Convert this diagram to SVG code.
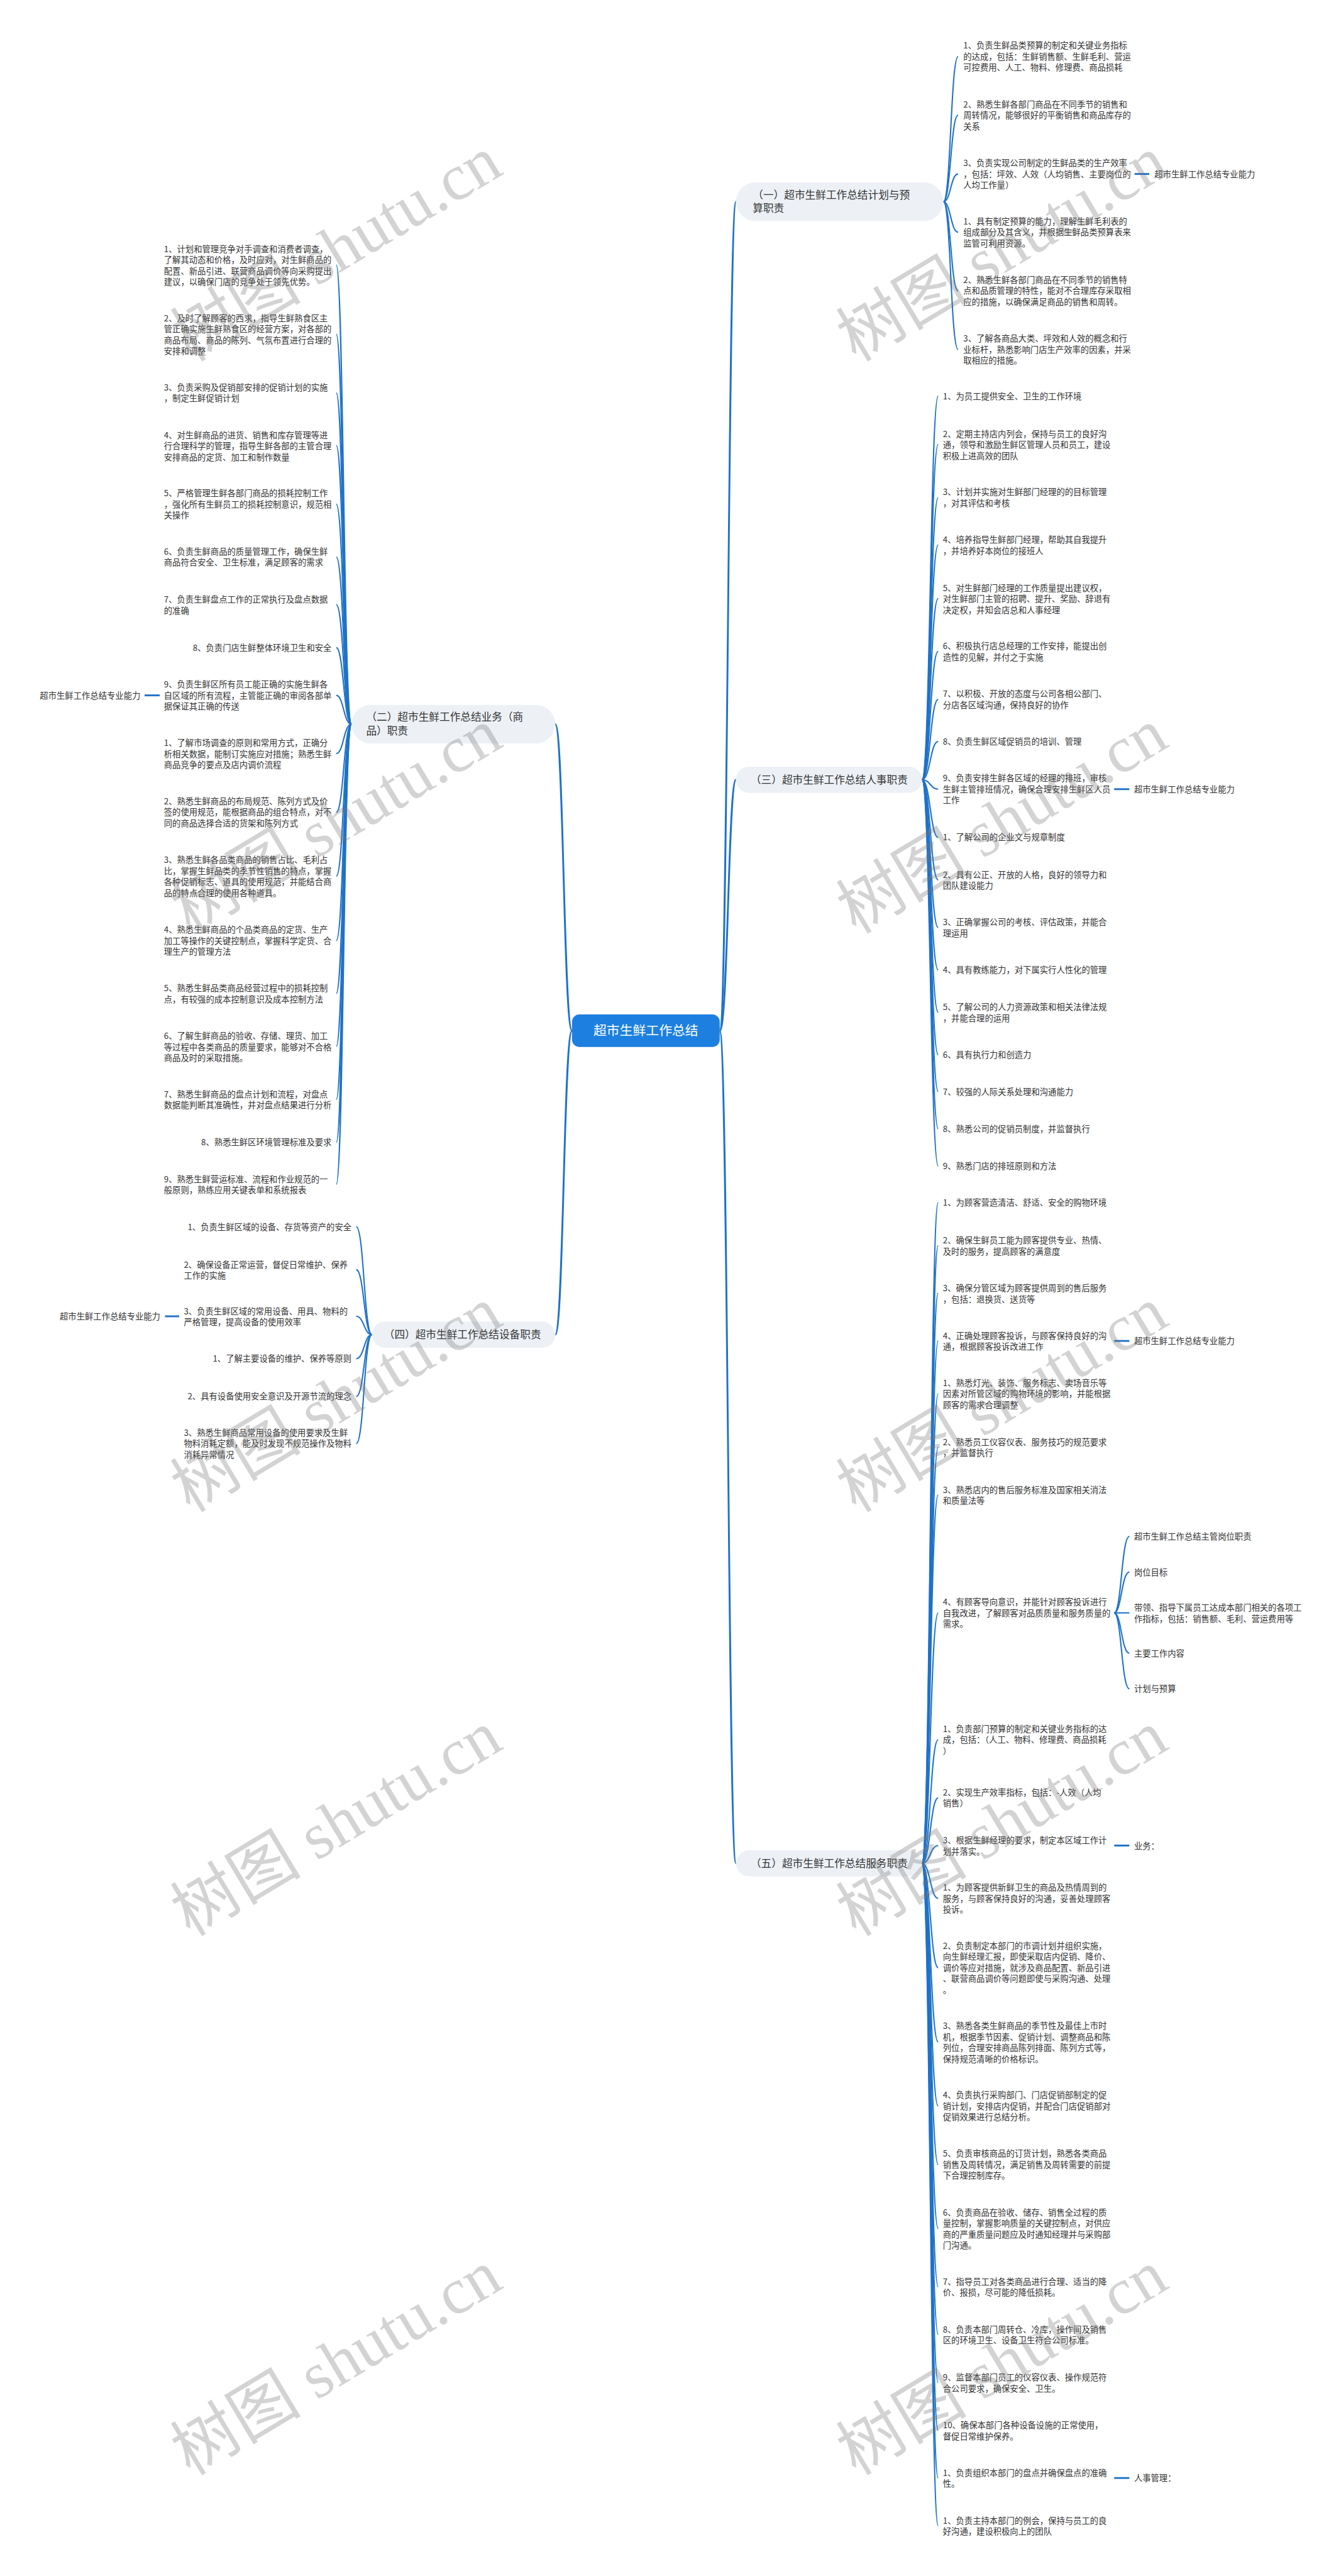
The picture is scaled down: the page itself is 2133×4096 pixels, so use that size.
<svg xmlns="http://www.w3.org/2000/svg" width="2133" height="4096" viewBox="0 0 2133 4096">
<style>
.t{font-family:"Noto Sans CJK SC","Noto Sans",sans-serif;font-size:16px;fill:#333}
.e{text-anchor:end}
.b{font-family:"Noto Sans CJK SC","Noto Sans",sans-serif;font-size:20px;fill:#333}
.r{font-family:"Noto Sans CJK SC","Noto Sans",sans-serif;font-size:25px;fill:#fff;text-anchor:middle}
.pill{fill:#edf1f6}
.c{fill:none;stroke:#1f72c8;stroke-width:2.5}
.c0{fill:none;stroke:#1f72c8;stroke-width:3.5}
.d{fill:none;stroke:#1f72c8;stroke-width:3.5}
.wm{font-family:"Liberation Serif","Noto Sans CJK SC",serif;font-size:125px;fill:#777;fill-opacity:.32;text-anchor:middle}
</style>
<rect width="2133" height="4096" fill="#fff"/>
<g transform="scale(0.8332)">
<g id="connectors">
<path class="c0" d="M1374,1967 C1390,1967 1390,385 1405,385"/>
<path class="c0" d="M1374,1967 C1390,1967 1390,1488 1405,1488"/>
<path class="c0" d="M1374,1967 C1390,1967 1390,3556 1405,3556"/>
<path class="c0" d="M1092,1967 C1076,1967 1076,1382 1060,1382"/>
<path class="c0" d="M1092,1967 C1076,1967 1076,2547 1060,2547"/>
<!-- branch 1 -->
<path class="c" d="M1801,385 C1815,385 1815,108 1829,108"/>
<path class="c" d="M1801,385 C1815,385 1815,220 1829,220"/>
<path class="c" d="M1801,385 C1815,385 1815,332 1829,332"/>
<path class="c" d="M1801,385 C1815,385 1815,443 1829,443"/>
<path class="c" d="M1801,385 C1815,385 1815,555 1829,555"/>
<path class="c" d="M1801,385 C1815,385 1815,667 1829,667"/>
<!-- branch 3 -->
<path class="c" d="M1760,1488 C1776,1488 1776,756 1791,756"/>
<path class="c" d="M1760,1488 C1776,1488 1776,848 1791,848"/>
<path class="c" d="M1760,1488 C1776,1488 1776,950 1791,950"/>
<path class="c" d="M1760,1488 C1776,1488 1776,1040 1791,1040"/>
<path class="c" d="M1760,1488 C1776,1488 1776,1142 1791,1142"/>
<path class="c" d="M1760,1488 C1776,1488 1776,1243 1791,1243"/>
<path class="c" d="M1760,1488 C1776,1488 1776,1335 1791,1335"/>
<path class="c" d="M1760,1488 C1776,1488 1776,1415 1791,1415"/>
<path class="c" d="M1760,1488 C1776,1488 1776,1506 1791,1506"/>
<path class="c" d="M1760,1488 C1776,1488 1776,1598 1791,1598"/>
<path class="c" d="M1760,1488 C1776,1488 1776,1679 1791,1679"/>
<path class="c" d="M1760,1488 C1776,1488 1776,1770 1791,1770"/>
<path class="c" d="M1760,1488 C1776,1488 1776,1851 1791,1851"/>
<path class="c" d="M1760,1488 C1776,1488 1776,1932 1791,1932"/>
<path class="c" d="M1760,1488 C1776,1488 1776,2013 1791,2013"/>
<path class="c" d="M1760,1488 C1776,1488 1776,2083 1791,2083"/>
<path class="c" d="M1760,1488 C1776,1488 1776,2154 1791,2154"/>
<path class="c" d="M1760,1488 C1776,1488 1776,2225 1791,2225"/>
<!-- branch 5 -->
<path class="c" d="M1760,3556 C1776,3556 1776,2295 1791,2295"/>
<path class="c" d="M1760,3556 C1776,3556 1776,2377 1791,2377"/>
<path class="c" d="M1760,3556 C1776,3556 1776,2468 1791,2468"/>
<path class="c" d="M1760,3556 C1776,3556 1776,2559 1791,2559"/>
<path class="c" d="M1760,3556 C1776,3556 1776,2660 1791,2660"/>
<path class="c" d="M1760,3556 C1776,3556 1776,2762 1791,2762"/>
<path class="c" d="M1760,3556 C1776,3556 1776,2853 1791,2853"/>
<path class="c" d="M1760,3556 C1776,3556 1776,3078 1791,3078"/>
<path class="c" d="M1760,3556 C1776,3556 1776,3320 1791,3320"/>
<path class="c" d="M1760,3556 C1776,3556 1776,3431 1791,3431"/>
<path class="c" d="M1760,3556 C1776,3556 1776,3522 1791,3522"/>
<path class="c" d="M1760,3556 C1776,3556 1776,3623 1791,3623"/>
<path class="c" d="M1760,3556 C1776,3556 1776,3755 1791,3755"/>
<path class="c" d="M1760,3556 C1776,3556 1776,3897 1791,3897"/>
<path class="c" d="M1760,3556 C1776,3556 1776,4019 1791,4019"/>
<path class="c" d="M1760,3556 C1776,3556 1776,4131 1791,4131"/>
<path class="c" d="M1760,3556 C1776,3556 1776,4253 1791,4253"/>
<path class="c" d="M1760,3556 C1776,3556 1776,4364 1791,4364"/>
<path class="c" d="M1760,3556 C1776,3556 1776,4455 1791,4455"/>
<path class="c" d="M1760,3556 C1776,3556 1776,4547 1791,4547"/>
<path class="c" d="M1760,3556 C1776,3556 1776,4638 1791,4638"/>
<path class="c" d="M1760,3556 C1776,3556 1776,4729 1791,4729"/>
<path class="c" d="M1760,3556 C1776,3556 1776,4820 1791,4820"/>
<!-- sub of branch 5 item 8 -->
<path class="c" d="M2127,3078 C2141,3078 2141,2932 2156,2932"/>
<path class="c" d="M2127,3078 C2141,3078 2141,3000 2156,3000"/>
<path class="c" d="M2127,3078 C2141,3078 2141,3078 2156,3078"/>
<path class="c" d="M2127,3078 C2141,3078 2141,3155 2156,3155"/>
<path class="c" d="M2127,3078 C2141,3078 2141,3223 2156,3223"/>
<!-- branch 2 -->
<path class="c" d="M671,1382 C656,1382 656,506 642,506"/>
<path class="c" d="M671,1382 C656,1382 656,638 642,638"/>
<path class="c" d="M671,1382 C656,1382 656,750 642,750"/>
<path class="c" d="M671,1382 C656,1382 656,850 642,850"/>
<path class="c" d="M671,1382 C656,1382 656,962 642,962"/>
<path class="c" d="M671,1382 C656,1382 656,1063 642,1063"/>
<path class="c" d="M671,1382 C656,1382 656,1154 642,1154"/>
<path class="c" d="M671,1382 C656,1382 656,1236 642,1236"/>
<path class="c" d="M671,1382 C656,1382 656,1327 642,1327"/>
<path class="c" d="M671,1382 C656,1382 656,1438 642,1438"/>
<path class="c" d="M671,1382 C656,1382 656,1550 642,1550"/>
<path class="c" d="M671,1382 C656,1382 656,1672 642,1672"/>
<path class="c" d="M671,1382 C656,1382 656,1795 642,1795"/>
<path class="c" d="M671,1382 C656,1382 656,1896 642,1896"/>
<path class="c" d="M671,1382 C656,1382 656,1997 642,1997"/>
<path class="c" d="M671,1382 C656,1382 656,2098 642,2098"/>
<path class="c" d="M671,1382 C656,1382 656,2180 642,2180"/>
<path class="c" d="M671,1382 C656,1382 656,2260 642,2260"/>
<!-- branch 4 -->
<path class="c" d="M710,2547 C695,2547 695,2341 680,2341"/>
<path class="c" d="M710,2547 C695,2547 695,2423 680,2423"/>
<path class="c" d="M710,2547 C695,2547 695,2512 680,2512"/>
<path class="c" d="M710,2547 C695,2547 695,2593 680,2593"/>
<path class="c" d="M710,2547 C695,2547 695,2665 680,2665"/>
<path class="c" d="M710,2547 C695,2547 695,2755 680,2755"/>
<!-- label dashes -->
<path class="d" d="M2166,332 H2194"/>
<path class="d" d="M2127,1506 H2156"/>
<path class="d" d="M2127,2559 H2156"/>
<path class="d" d="M2127,3522 H2156"/>
<path class="d" d="M2127,4729 H2156"/>
<path class="d" d="M305,1327 H276"/>
<path class="d" d="M342,2512 H315"/>
</g>

<g id="root">
<rect x="1092" y="1936" width="282" height="62" rx="14" fill="#1d80e0"/>
<text class="r" x="1233" y="1976">超市生鲜工作总结</text>
</g>

<g id="b1">
<rect class="pill" x="1405" y="348" width="396" height="74" rx="37"/>
<text class="b" x="1437"><tspan x="1437" y="379">（一）超市生鲜工作总结计划与预</tspan><tspan x="1437" y="405">算职责</tspan></text>
</g>
<g id="b1-items">
<text class="t"><tspan x="1839" y="93">1、负责生鲜品类预算的制定和关键业务指标</tspan><tspan x="1839" y="114">的达成，包括：生鲜销售额、生鲜毛利、营运</tspan><tspan x="1839" y="135">可控费用、人工、物料、修理费、商品损耗</tspan></text>
<text class="t"><tspan x="1839" y="205">2、熟悉生鲜各部门商品在不同季节的销售和</tspan><tspan x="1839" y="226">周转情况，能够很好的平衡销售和商品库存的</tspan><tspan x="1839" y="247">关系</tspan></text>
<text class="t"><tspan x="1839" y="317">3、负责实现公司制定的生鲜品类的生产效率</tspan><tspan x="1839" y="338">，包括：坪效、人效（人均销售、主要岗位的</tspan><tspan x="1839" y="359">人均工作量）</tspan></text>
<text class="t"><tspan x="1839" y="428">1、具有制定预算的能力，理解生鲜毛利表的</tspan><tspan x="1839" y="449">组成部分及其含义，并根据生鲜品类预算表来</tspan><tspan x="1839" y="470">监管可利用资源。</tspan></text>
<text class="t"><tspan x="1839" y="540">2、熟悉生鲜各部门商品在不同季节的销售特</tspan><tspan x="1839" y="561">点和品质管理的特性，能对不合理库存采取相</tspan><tspan x="1839" y="582">应的措施，以确保满足商品的销售和周转。</tspan></text>
<text class="t"><tspan x="1839" y="652">3、了解各商品大类、坪效和人效的概念和行</tspan><tspan x="1839" y="673">业标杆，熟悉影响门店生产效率的因素，并采</tspan><tspan x="1839" y="694">取相应的措施。</tspan></text>
<text class="t" x="2204" y="338">超市生鲜工作总结专业能力</text>
</g>

<g id="b3">
<rect class="pill" x="1405" y="1463" width="355" height="50" rx="25"/>
<text class="b" x="1433" y="1495">（三）超市生鲜工作总结人事职责</text>
</g>
<g id="b3-items">
<text class="t" x="1800" y="762">1、为员工提供安全、卫生的工作环境</text>
<text class="t"><tspan x="1800" y="834">2、定期主持店内列会，保持与员工的良好沟</tspan><tspan x="1800" y="855">通，领导和激励生鲜区管理人员和员工，建设</tspan><tspan x="1800" y="876">积极上进高效的团队</tspan></text>
<text class="t"><tspan x="1800" y="945">3、计划并实施对生鲜部门经理的的目标管理</tspan><tspan x="1800" y="966">，对其评估和考核</tspan></text>
<text class="t"><tspan x="1800" y="1036">4、培养指导生鲜部门经理，帮助其自我提升</tspan><tspan x="1800" y="1057">，并培养好本岗位的接班人</tspan></text>
<text class="t"><tspan x="1800" y="1128">5、对生鲜部门经理的工作质量提出建议权，</tspan><tspan x="1800" y="1149">对生鲜部门主管的招聘、提升、奖励、辞退有</tspan><tspan x="1800" y="1170">决定权，并知会店总和人事经理</tspan></text>
<text class="t"><tspan x="1800" y="1239">6、积极执行店总经理的工作安排，能提出创</tspan><tspan x="1800" y="1260">造性的见解，并付之于实施</tspan></text>
<text class="t"><tspan x="1800" y="1330">7、以积极、开放的态度与公司各相公部门、</tspan><tspan x="1800" y="1351">分店各区域沟通，保持良好的协作</tspan></text>
<text class="t" x="1800" y="1421">8、负责生鲜区域促销员的培训、管理</text>
<text class="t"><tspan x="1800" y="1491">9、负责安排生鲜各区域的经理的排班，审核</tspan><tspan x="1800" y="1512">生鲜主管排班情况，确保合理安排生鲜区人员</tspan><tspan x="1800" y="1533">工作</tspan></text>
<text class="t" x="2165" y="1512">超市生鲜工作总结专业能力</text>
<text class="t" x="1800" y="1604">1、了解公司的企业文与规章制度</text>
<text class="t"><tspan x="1800" y="1675">2、具有公正、开放的人格，良好的领导力和</tspan><tspan x="1800" y="1696">团队建设能力</tspan></text>
<text class="t"><tspan x="1800" y="1766">3、正确掌握公司的考核、评估政策，并能合</tspan><tspan x="1800" y="1787">理运用</tspan></text>
<text class="t" x="1800" y="1857">4、具有教练能力，对下属实行人性化的管理</text>
<text class="t"><tspan x="1800" y="1928">5、了解公司的人力资源政策和相关法律法规</tspan><tspan x="1800" y="1949">，并能合理的运用</tspan></text>
<text class="t" x="1800" y="2019">6、具有执行力和创造力</text>
<text class="t" x="1800" y="2089">7、较强的人际关系处理和沟通能力</text>
<text class="t" x="1800" y="2160">8、熟悉公司的促销员制度，并监督执行</text>
<text class="t" x="1800" y="2231">9、熟悉门店的排班原则和方法</text>
</g>

<g id="b5">
<rect class="pill" x="1405" y="3531" width="355" height="50" rx="25"/>
<text class="b" x="1433" y="3563">（五）超市生鲜工作总结服务职责</text>
</g>
<g id="b5-items">
<text class="t" x="1800" y="2301">1、为顾客营造清洁、舒适、安全的购物环境</text>
<text class="t"><tspan x="1800" y="2373">2、确保生鲜员工能为顾客提供专业、热情、</tspan><tspan x="1800" y="2394">及时的服务，提高顾客的满意度</tspan></text>
<text class="t"><tspan x="1800" y="2464">3、确保分管区域为顾客提供周到的售后服务</tspan><tspan x="1800" y="2485">，包括：退换货、送货等</tspan></text>
<text class="t"><tspan x="1800" y="2555">4、正确处理顾客投诉，与顾客保持良好的沟</tspan><tspan x="1800" y="2576">通，根据顾客投诉改进工作</tspan></text>
<text class="t" x="2165" y="2565">超市生鲜工作总结专业能力</text>
<text class="t"><tspan x="1800" y="2645">1、熟悉灯光、装饰、服务标志、卖场音乐等</tspan><tspan x="1800" y="2666">因素对所管区域的购物环境的影响，并能根据</tspan><tspan x="1800" y="2687">顾客的需求合理调整</tspan></text>
<text class="t"><tspan x="1800" y="2758">2、熟悉员工仪容仪表、服务技巧的规范要求</tspan><tspan x="1800" y="2779">，并监督执行</tspan></text>
<text class="t"><tspan x="1800" y="2849">3、熟悉店内的售后服务标准及国家相关消法</tspan><tspan x="1800" y="2870">和质量法等</tspan></text>
<text class="t"><tspan x="1800" y="3063">4、有顾客导向意识，并能针对顾客投诉进行</tspan><tspan x="1800" y="3084">自我改进，了解顾客对品质质量和服务质量的</tspan><tspan x="1800" y="3105">需求。</tspan></text>
<text class="t" x="2165" y="2938">超市生鲜工作总结主管岗位职责</text>
<text class="t" x="2165" y="3006">岗位目标</text>
<text class="t"><tspan x="2165" y="3074">带领、指导下属员工达成本部门相关的各项工</tspan><tspan x="2165" y="3095">作指标，包括：销售额、毛利、营运费用等</tspan></text>
<text class="t" x="2165" y="3161">主要工作内容</text>
<text class="t" x="2165" y="3229">计划与预算</text>
<text class="t"><tspan x="1800" y="3305">1、负责部门预算的制定和关键业务指标的达</tspan><tspan x="1800" y="3326">成，包括：（人工、物料、修理费、商品损耗</tspan><tspan x="1800" y="3347">）</tspan></text>
<text class="t"><tspan x="1800" y="3426">2、实现生产效率指标，包括：-人效（人均</tspan><tspan x="1800" y="3447">销售）</tspan></text>
<text class="t"><tspan x="1800" y="3518">3、根据生鲜经理的要求，制定本区域工作计</tspan><tspan x="1800" y="3539">划并落实。</tspan></text>
<text class="t" x="2165" y="3528">业务：</text>
<text class="t"><tspan x="1800" y="3608">1、为顾客提供新鲜卫生的商品及热情周到的</tspan><tspan x="1800" y="3629">服务，与顾客保持良好的沟通，妥善处理顾客</tspan><tspan x="1800" y="3650">投诉。</tspan></text>
<text class="t"><tspan x="1800" y="3719">2、负责制定本部门的市调计划并组织实施，</tspan><tspan x="1800" y="3740">向生鲜经理汇报，即使采取店内促销、降价、</tspan><tspan x="1800" y="3761">调价等应对措施，就涉及商品配置、新品引进</tspan><tspan x="1800" y="3782">、联营商品调价等问题即使与采购沟通、处理</tspan><tspan x="1800" y="3803">。</tspan></text>
<text class="t"><tspan x="1800" y="3872">3、熟悉各类生鲜商品的季节性及最佳上市时</tspan><tspan x="1800" y="3893">机，根据季节因素、促销计划、调整商品和陈</tspan><tspan x="1800" y="3914">列位，合理安排商品陈列排面、陈列方式等，</tspan><tspan x="1800" y="3935">保持规范清晰的价格标识。</tspan></text>
<text class="t"><tspan x="1800" y="4004">4、负责执行采购部门、门店促销部制定的促</tspan><tspan x="1800" y="4025">销计划，安排店内促销，并配合门店促销部对</tspan><tspan x="1800" y="4046">促销效果进行总结分析。</tspan></text>
<text class="t"><tspan x="1800" y="4116">5、负责审核商品的订货计划，熟悉各类商品</tspan><tspan x="1800" y="4137">销售及周转情况，满足销售及周转需要的前提</tspan><tspan x="1800" y="4158">下合理控制库存。</tspan></text>
<text class="t"><tspan x="1800" y="4228">6、负责商品在验收、储存、销售全过程的质</tspan><tspan x="1800" y="4249">量控制，掌握影响质量的关键控制点，对供应</tspan><tspan x="1800" y="4270">商的严重质量问题应及时通知经理并与采购部</tspan><tspan x="1800" y="4291">门沟通。</tspan></text>
<text class="t"><tspan x="1800" y="4360">7、指导员工对各类商品进行合理、适当的降</tspan><tspan x="1800" y="4381">价、报损，尽可能的降低损耗。</tspan></text>
<text class="t"><tspan x="1800" y="4451">8、负责本部门周转仓、冷库，操作间及销售</tspan><tspan x="1800" y="4472">区的环境卫生、设备卫生符合公司标准。</tspan></text>
<text class="t"><tspan x="1800" y="4543">9、监督本部门员工的仪容仪表、操作规范符</tspan><tspan x="1800" y="4564">合公司要求，确保安全、卫生。</tspan></text>
<text class="t"><tspan x="1800" y="4634">10、确保本部门各种设备设施的正常使用，</tspan><tspan x="1800" y="4655">督促日常维护保养。</tspan></text>
<text class="t"><tspan x="1800" y="4725">1、负责组织本部门的盘点并确保盘点的准确</tspan><tspan x="1800" y="4746">性。</tspan></text>
<text class="t" x="2165" y="4735">人事管理：</text>
<text class="t"><tspan x="1800" y="4816">1、负责主持本部门的例会，保持与员工的良</tspan><tspan x="1800" y="4837">好沟通，建设积极向上的团队</tspan></text>
</g>

<g id="b2">
<rect class="pill" x="671" y="1345" width="389" height="74" rx="37"/>
<text class="b"><tspan x="699" y="1376">（二）超市生鲜工作总结业务（商</tspan><tspan x="699" y="1402">品）职责</tspan></text>
</g>
<g id="b2-items">
<text class="t"><tspan x="313" y="481">1、计划和管理竞争对手调查和消费者调查，</tspan><tspan x="313" y="502">了解其动态和价格，及时应对，对生鲜商品的</tspan><tspan x="313" y="523">配置、新品引进、联营商品调价等向采购提出</tspan><tspan x="313" y="544">建议，以确保门店的竞争处于领先优势。</tspan></text>
<text class="t"><tspan x="313" y="613">2、及时了解顾客的西求，指导生鲜熟食区主</tspan><tspan x="313" y="634">管正确实施生鲜熟食区的经营方案，对各部的</tspan><tspan x="313" y="655">商品布局、商品的陈列、气氛布置进行合理的</tspan><tspan x="313" y="676">安排和调整</tspan></text>
<text class="t"><tspan x="313" y="745">3、负责采购及促销部安排的促销计划的实施</tspan><tspan x="313" y="766">，制定生鲜促销计划</tspan></text>
<text class="t"><tspan x="313" y="836">4、对生鲜商品的进货、销售和库存管理等进</tspan><tspan x="313" y="857">行合理科学的管理，指导生鲜各部的主管合理</tspan><tspan x="313" y="878">安排商品的定货、加工和制作数量</tspan></text>
<text class="t"><tspan x="313" y="947">5、严格管理生鲜各部门商品的损耗控制工作</tspan><tspan x="313" y="968">，强化所有生鲜员工的损耗控制意识，规范相</tspan><tspan x="313" y="989">关操作</tspan></text>
<text class="t"><tspan x="313" y="1058">6、负责生鲜商品的质量管理工作，确保生鲜</tspan><tspan x="313" y="1079">商品符合安全、卫生标准，满足顾客的需求</tspan></text>
<text class="t"><tspan x="313" y="1150">7、负责生鲜盘点工作的正常执行及盘点数据</tspan><tspan x="313" y="1171">的准确</tspan></text>
<text class="t e" x="633" y="1242">8、负责门店生鲜整体环境卫生和安全</text>
<text class="t"><tspan x="313" y="1312">9、负责生鲜区所有员工能正确的实施生鲜各</tspan><tspan x="313" y="1333">自区域的所有流程，主管能正确的审阅各部单</tspan><tspan x="313" y="1354">据保证其正确的传送</tspan></text>
<text class="t e" x="268" y="1333">超市生鲜工作总结专业能力</text>
<text class="t"><tspan x="313" y="1424">1、了解市场调查的原则和常用方式，正确分</tspan><tspan x="313" y="1445">析相关数据，能制订实施应对措施；熟悉生鲜</tspan><tspan x="313" y="1466">商品竞争的要点及店内调价流程</tspan></text>
<text class="t"><tspan x="313" y="1535">2、熟悉生鲜商品的布局规范、陈列方式及价</tspan><tspan x="313" y="1556">签的使用规范，能根据商品的组合特点，对不</tspan><tspan x="313" y="1577">同的商品选择合适的货架和陈列方式</tspan></text>
<text class="t"><tspan x="313" y="1647">3、熟悉生鲜各品类商品的销售占比、毛利占</tspan><tspan x="313" y="1668">比，掌握生鲜品类的季节性销售的特点，掌握</tspan><tspan x="313" y="1689">各种促销标志、道具的使用规范，并能结合商</tspan><tspan x="313" y="1710">品的特点合理的使用各种道具。</tspan></text>
<text class="t"><tspan x="313" y="1780">4、熟悉生鲜商品的个品类商品的定货、生产</tspan><tspan x="313" y="1801">加工等操作的关键控制点，掌握科学定货、合</tspan><tspan x="313" y="1822">理生产的管理方法</tspan></text>
<text class="t"><tspan x="313" y="1892">5、熟悉生鲜品类商品经营过程中的损耗控制</tspan><tspan x="313" y="1913">点，有较强的成本控制意识及成本控制方法</tspan></text>
<text class="t"><tspan x="313" y="1983">6、了解生鲜商品的验收、存储、理货、加工</tspan><tspan x="313" y="2004">等过程中各类商品的质量要求，能够对不合格</tspan><tspan x="313" y="2025">商品及时的采取措施。</tspan></text>
<text class="t"><tspan x="313" y="2094">7、熟悉生鲜商品的盘点计划和流程，对盘点</tspan><tspan x="313" y="2115">数据能判断其准确性，并对盘点结果进行分析</tspan></text>
<text class="t e" x="633" y="2186">8、熟悉生鲜区环境管理标准及要求</text>
<text class="t"><tspan x="313" y="2256">9、熟悉生鲜营运标准、流程和作业规范的一</tspan><tspan x="313" y="2277">般原则，熟练应用关键表单和系统报表</tspan></text>
</g>

<g id="b4">
<rect class="pill" x="710" y="2522" width="350" height="50" rx="25"/>
<text class="b" x="733" y="2554">（四）超市生鲜工作总结设备职责</text>
</g>
<g id="b4-items">
<text class="t e" x="671" y="2347">1、负责生鲜区域的设备、存货等资产的安全</text>
<text class="t"><tspan x="351" y="2419">2、确保设备正常运营，督促日常维护、保养</tspan><tspan x="351" y="2440">工作的实施</tspan></text>
<text class="t"><tspan x="351" y="2508">3、负责生鲜区域的常用设备、用具、物料的</tspan><tspan x="351" y="2529">严格管理，提高设备的使用效率</tspan></text>
<text class="t e" x="306" y="2518">超市生鲜工作总结专业能力</text>
<text class="t e" x="671" y="2599">1、了解主要设备的维护、保养等原则</text>
<text class="t e" x="671" y="2671">2、具有设备使用安全意识及开源节流的理念</text>
<text class="t"><tspan x="351" y="2740">3、熟悉生鲜商品常用设备的使用要求及生鲜</tspan><tspan x="351" y="2761">物料消耗定额，能及时发现不规范操作及物料</tspan><tspan x="351" y="2782">消耗异常情况</tspan></text>
</g>

<g id="watermarks">
<text class="wm" transform="rotate(-31 643 477)" x="643" y="517">树图 shutu.cn</text>
<text class="wm" transform="rotate(-31 1914 477)" x="1914" y="517">树图 shutu.cn</text>
<text class="wm" transform="rotate(-31 643 1569)" x="643" y="1609">树图 shutu.cn</text>
<text class="wm" transform="rotate(-31 1914 1569)" x="1914" y="1609">树图 shutu.cn</text>
<text class="wm" transform="rotate(-31 643 2673)" x="643" y="2713">树图 shutu.cn</text>
<text class="wm" transform="rotate(-31 1914 2673)" x="1914" y="2713">树图 shutu.cn</text>
<text class="wm" transform="rotate(-31 643 3482)" x="643" y="3522">树图 shutu.cn</text>
<text class="wm" transform="rotate(-31 1914 3482)" x="1914" y="3522">树图 shutu.cn</text>
<text class="wm" transform="rotate(-31 643 4511)" x="643" y="4551">树图 shutu.cn</text>
<text class="wm" transform="rotate(-31 1914 4511)" x="1914" y="4551">树图 shutu.cn</text>
</g>
</g>
</svg>
